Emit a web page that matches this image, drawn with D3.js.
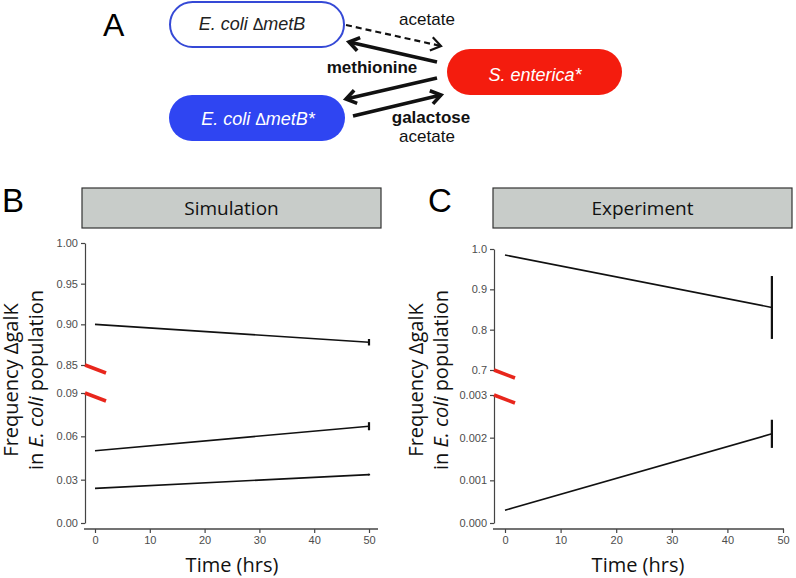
<!DOCTYPE html>
<html>
<head>
<meta charset="utf-8">
<script src="https://cdnjs.cloudflare.com/ajax/libs/d3/7.8.5/d3.min.js"></script>
<style>
  body { margin: 0; background: #fff; }
  svg { display: block; }
</style>
</head>
<body>
<div id="chart"></div>
<script>
// ---- data ----
var timeTicks = [0, 10, 20, 30, 40, 50];

// simulation (panel B)
var simTime = [0, 50];
var simHigh = [0.900, 0.878], simHighErr = [0, 0.004];
var simMid = [0.050, 0.067], simMidErr = [0, 0.0028];
var simLow = [0.024, 0.0335], simLowErr = [0, 0.0006];
var simTopTicks = [0.85, 0.90, 0.95, 1.00];
var simBottomTicks = [0.00, 0.03, 0.06, 0.09];

// experiment (panel C)
var expTime = [0, 48];
var expHigh = [0.985, 0.855], expHighErr = [0, 0.078];
var expLow = [0.0003, 0.00209], expLowErr = [0, 0.00033];
var expTopTicks = [0.7, 0.8, 0.9, 1.0];
var expBottomTicks = [0.000, 0.001, 0.002, 0.003];

var W = 796, H = 578;
var svg = d3.select("#chart").append("svg")
  .attr("width", W).attr("height", H);

var sans = "'Liberation Sans', Arial, sans-serif";
var body = "'Open Sans', sans-serif";

// ---------------- panel A : interaction diagram ----------------
var gA = svg.append("g");

gA.append("text").attr("x", 103).attr("y", 36)
  .style("font-family", sans).style("font-size", "32px").text("A");

gA.append("rect").attr("x", 170).attr("y", 2).attr("width", 174).attr("height", 45)
  .attr("rx", 22.5).attr("fill", "#fff").attr("stroke", "#3549d6").attr("stroke-width", 2);
gA.append("rect").attr("x", 169).attr("y", 95).attr("width", 176).attr("height", 46)
  .attr("rx", 23).attr("fill", "#2f45f2");
gA.append("rect").attr("x", 447).attr("y", 49).attr("width", 175).attr("height", 46)
  .attr("rx", 23).attr("fill", "#f41c0e");

function boxLabel(x, y, parts, color) {
  var t = gA.append("text").attr("x", x).attr("y", y)
    .attr("text-anchor", "middle")
    .style("font-family", sans).style("font-size", "18px").style("fill", color);
  parts.forEach(function (p) {
    t.append("tspan").style("font-style", p[1] ? "italic" : "normal")
      .style("font-size", p[1] ? "18px" : "16px").text(p[0]);
  });
}
boxLabel(252, 30, [["E. coli ", true], ["\u0394", false], ["metB", true]], "#222");
boxLabel(258, 125, [["E. coli ", true], ["\u0394", false], ["metB*", true]], "#fff");
boxLabel(535, 81, [["S. enterica*", true]], "#fff");

function arrow(x1, y1, x2, y2, w, dash) {
  var line = gA.append("line")
    .attr("x1", x1).attr("y1", y1).attr("x2", x2).attr("y2", y2)
    .attr("stroke", "#111").attr("stroke-width", w);
  if (dash) line.attr("stroke-dasharray", dash);
  var a = Math.atan2(y2 - y1, x2 - x1), L = 12, s = 0.6;
  var p = [
    [x2 - L * Math.cos(a - s), y2 - L * Math.sin(a - s)],
    [x2, y2],
    [x2 - L * Math.cos(a + s), y2 - L * Math.sin(a + s)]
  ];
  gA.append("path").attr("d", d3.line()(p))
    .attr("fill", "none").attr("stroke", "#111")
    .attr("stroke-width", dash ? 2.2 : w).attr("stroke-linejoin", "miter");
}
arrow(346, 25, 441, 46, 2.2, "6,4");
arrow(437, 62, 349, 42, 3.6);
arrow(437, 78, 346, 99, 3.6);
arrow(353, 116, 441, 95, 3.6);

function note(x, y, txt, bold) {
  gA.append("text").attr("x", x).attr("y", y).attr("text-anchor", "middle")
    .style("font-family", sans).style("font-size", "17px")
    .style("font-weight", bold ? "bold" : "normal").style("fill", "#111").text(txt);
}
note(427, 25, "acetate");
note(372, 73, "methionine", true);
note(431, 123, "galactose", true);
note(427, 142, "acetate");

// ---------------- panels B and C ----------------
function panel(cfg) {
  var g = svg.append("g");

  g.append("text").attr("x", cfg.labelX).attr("y", 212)
    .style("font-family", sans).style("font-size", "33px").text(cfg.label);

  g.append("rect").attr("x", cfg.stripX0).attr("y", 188)
    .attr("width", cfg.stripX1 - cfg.stripX0).attr("height", 40)
    .attr("fill", "#c8ccc9").attr("stroke", "#333").attr("stroke-width", 1.2);
  g.append("text").attr("x", (cfg.stripX0 + cfg.stripX1) / 2).attr("y", 215)
    .attr("text-anchor", "middle")
    .style("font-family", body).style("font-size", "19px").style("fill", "#111")
    .text(cfg.title);

  var x = d3.scaleLinear().domain([0, 50]).range([cfg.x0, cfg.x50]);
  var yTop = d3.scaleLinear().domain(d3.extent(cfg.topTicks)).range([cfg.topBottom, cfg.topTop]);
  var yBot = d3.scaleLinear().domain(d3.extent(cfg.botTicks)).range([523, cfg.botTop]);

  function yAxis(scale, ticks, fmt) {
    var a = g.append("g").attr("transform", "translate(" + cfg.axisX + ",0)")
      .call(d3.axisLeft(scale).tickValues(ticks).tickFormat(d3.format(fmt))
        .tickSize(4).tickPadding(3).tickSizeOuter(0));
    a.select(".domain").attr("stroke", "#444").attr("stroke-width", 1.2);
    a.selectAll(".tick line").attr("stroke", "#444").attr("stroke-width", 1.2);
    a.selectAll(".tick text").style("font-family", sans).style("font-size", "11px")
      .style("fill", "#4d4d4d");
  }
  yAxis(yTop, cfg.topTicks, cfg.topFmt);
  yAxis(yBot, cfg.botTicks, cfg.botFmt);

  var xa = g.append("g").attr("transform", "translate(0,529)")
    .call(d3.axisBottom(x).tickValues(timeTicks).tickSize(4).tickPadding(3).tickSizeOuter(0));
  xa.select(".domain").remove();
  xa.selectAll(".tick line").attr("stroke", "#444").attr("stroke-width", 1.2);
  xa.selectAll(".tick text").style("font-family", sans).style("font-size", "11px")
    .style("fill", "#4d4d4d");
  g.append("line").attr("x1", cfg.xAxisStart).attr("x2", cfg.xAxisEnd)
    .attr("y1", 529).attr("y2", 529).attr("stroke", "#444").attr("stroke-width", 1.4);

  // axis break marks
  [yTop(cfg.topTicks[0]), yBot(cfg.botTicks[cfg.botTicks.length - 1])].forEach(function (yy) {
    g.append("line").attr("x1", cfg.axisX).attr("y1", yy)
      .attr("x2", cfg.axisX + 21).attr("y2", yy + 8)
      .attr("stroke", "#e8261c").attr("stroke-width", 3.5);
  });

  function series(vals, errs, y) {
    var pts = cfg.time.map(function (t, i) { return [t, vals[i], errs[i]]; });
    g.append("path").datum(pts)
      .attr("d", d3.line().x(function (d) { return x(d[0]); }).y(function (d) { return y(d[1]); }))
      .attr("fill", "none").attr("stroke", "#111").attr("stroke-width", 1.6);
    pts.filter(function (d) { return d[2] > 0; }).forEach(function (d) {
      g.append("line").attr("x1", x(d[0])).attr("x2", x(d[0]))
        .attr("y1", y(d[1] - d[2])).attr("y2", y(d[1] + d[2]))
        .attr("stroke", "#111").attr("stroke-width", 2.2);
    });
  }
  cfg.top.forEach(function (s) { series(s[0], s[1], yTop); });
  cfg.bottom.forEach(function (s) { series(s[0], s[1], yBot); });

  // axis titles
  var cy = 380;
  var yt = g.append("text").attr("transform", "translate(" + cfg.titleX + "," + cy + ") rotate(-90)")
    .attr("text-anchor", "middle").style("font-family", body).style("font-size", "20px")
    .style("fill", "#111");
  yt.append("tspan").attr("x", 0).attr("dy", 0).text("Frequency \u0394galK");
  var l2 = yt.append("tspan").attr("x", 0).attr("dy", 25);
  l2.append("tspan").text("in ");
  l2.append("tspan").style("font-style", "italic").text("E. coli");
  l2.append("tspan").text(" population");

  g.append("text").attr("x", cfg.timeX).attr("y", 572).attr("text-anchor", "middle")
    .style("font-family", body).style("font-size", "20px").style("fill", "#111")
    .text("Time (hrs)");
}

panel({
  label: "B", labelX: 2, title: "Simulation", stripX0: 82, stripX1: 381,
  x0: 95, x50: 369, xAxisStart: 84, xAxisEnd: 378, axisX: 85,
  topTicks: simTopTicks, topFmt: ".2f", topTop: 243, topBottom: 365,
  botTicks: simBottomTicks, botFmt: ".2f", botTop: 393,
  time: simTime,
  top: [[simHigh, simHighErr]],
  bottom: [[simMid, simMidErr], [simLow, simLowErr]],
  titleX: 18, timeX: 232
});

panel({
  label: "C", labelX: 428, title: "Experiment", stripX0: 493, stripX1: 792,
  x0: 505, x50: 783, xAxisStart: 493, xAxisEnd: 784, axisX: 494,
  topTicks: expTopTicks, topFmt: ".1f", topTop: 249, topBottom: 370,
  botTicks: expBottomTicks, botFmt: ".3f", botTop: 395,
  time: expTime,
  top: [[expHigh, expHighErr]],
  bottom: [[expLow, expLowErr]],
  titleX: 423, timeX: 638
});
</script>
</body>
</html>
